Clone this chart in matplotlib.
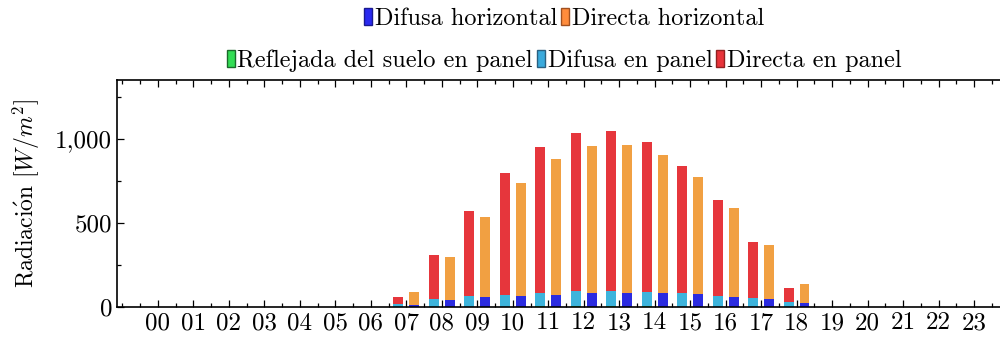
import matplotlib
matplotlib.use("Agg")
import matplotlib.pyplot as plt
import numpy as np
from matplotlib.patches import Patch
from matplotlib.ticker import FuncFormatter, MultipleLocator

plt.rcParams["font.family"] = ["cmr10", "DejaVu Serif"]
plt.rcParams["mathtext.fontset"] = "cm"

hours = [f"{h:02d}" for h in range(24)]

# Panel components (W/m2) per hour
reflejada_panel = [0, 0, 0, 0, 0, 0, 0, 1, 2, 3, 3, 4, 4, 4, 4, 3, 3, 2, 1, 0, 0, 0, 0, 0]
difusa_panel = [0, 0, 0, 0, 0, 0, 0, 15, 46, 62, 72, 82, 92, 92, 88, 82, 66, 52, 32, 0, 0, 0, 0, 0]
total_panel = [0, 0, 0, 0, 0, 0, 0, 58, 311, 570, 796, 954, 1034, 1046, 980, 836, 635, 387, 116, 0, 0, 0, 0, 0]

# Horizontal components (W/m2) per hour
difusa_horizontal = [0, 0, 0, 0, 0, 0, 0, 10, 42, 58, 66, 72, 86, 82, 82, 76, 58, 46, 26, 0, 0, 0, 0, 0]
total_horizontal = [0, 0, 0, 0, 0, 0, 0, 88, 300, 537, 736, 880, 956, 966, 906, 774, 591, 367, 136, 0, 0, 0, 0, 0]

c_blue = "#2b2be0"
c_orange = "#f1a042"
c_green = "#3ddc5c"
c_cyan = "#3db4dc"
c_red = "#e6363c"

x = np.arange(len(hours))
refl = np.array(reflejada_panel)
dif_p = np.array(difusa_panel)
dir_p = np.array(total_panel) - dif_p - refl
dif_h = np.array(difusa_horizontal)
dir_h = np.array(total_horizontal) - dif_h

fig = plt.figure(figsize=(10, 3.39), dpi=100)
ax = fig.add_axes([0.117, 0.094, 0.898, 0.67])

w = 0.28
off = 0.22
ax.bar(x - off, refl, w, color=c_green, zorder=2)
ax.bar(x - off, dif_p, w, bottom=refl, color=c_cyan, zorder=2)
ax.bar(x - off, dir_p, w, bottom=refl + dif_p, color=c_red, zorder=2)
ax.bar(x + off, dif_h, w, color=c_blue, zorder=2)
ax.bar(x + off, dir_h, w, bottom=dif_h, color=c_orange, zorder=2)

ax.set_xlim(-1.15, 24.15)
ax.set_ylim(0, 1350)
ax.set_xticks(x)
ax.set_xticklabels(hours, fontsize=18)
ax.xaxis.set_minor_locator(MultipleLocator(0.5))
ax.yaxis.set_major_locator(MultipleLocator(500))
ax.yaxis.set_minor_locator(MultipleLocator(250))
ax.yaxis.set_major_formatter(FuncFormatter(lambda v, _: f"{v:,.0f}"))
ax.tick_params(axis="y", labelsize=18)
ax.tick_params(which="both", direction="in", top=True, right=True, width=0.9)
ax.tick_params(which="major", length=5)
ax.tick_params(which="minor", length=3)
for s in ax.spines.values():
    s.set_linewidth(1.2)

ax.set_ylabel(r"Radiaci$\mathrm{\acute{o}}$n $[W/m^2]$", fontsize=17)
ax.yaxis.set_label_coords(-0.084, 0.5)

def patch(c, e):
    return Patch(facecolor=c, edgecolor=e, linewidth=1.0)

leg_kw = dict(frameon=False, fontsize=17.5, handlelength=0.35, handleheight=0.7,
              handletextpad=0.1, columnspacing=0.15, borderaxespad=0)
leg1 = fig.legend([patch("#2a2af0", "#1a1a90"), patch("#ff8c3c", "#a05020")],
                  ["Difusa horizontal", "Directa horizontal"],
                  loc="center", bbox_to_anchor=(0.564, 0.945), ncol=2, **leg_kw)
leg2 = fig.legend([patch("#33dd55", "#1a6a2a"), patch("#3aaadc", "#2a6080"), patch("#e8333a", "#902020")],
                  ["Reflejada del suelo en panel", "Difusa en panel", "Directa en panel"],
                  loc="center", bbox_to_anchor=(0.564, 0.822), ncol=3, **leg_kw)

fig.savefig("out.png", dpi=100)
plt.close(fig)
